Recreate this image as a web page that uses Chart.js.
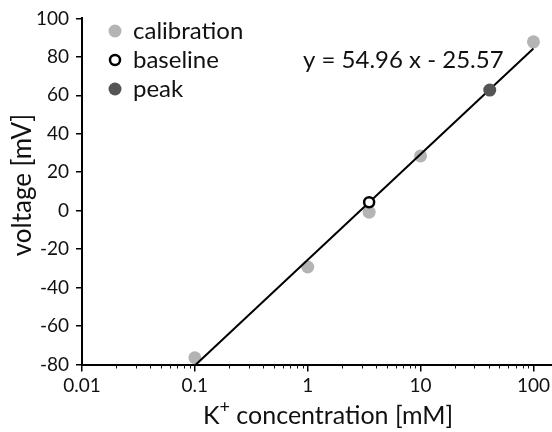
<!DOCTYPE html>
<html>
<head>
<meta charset="utf-8">
<script src="https://cdn.jsdelivr.net/npm/chart.js@4.4.1/dist/chart.umd.min.js"></script>
<style>
  html, body { margin: 0; padding: 0; background: #fff; }
  #wrap { width: 552px; height: 432px; }
</style>
</head>
<body>
<div id="wrap"><canvas id="chart" width="552" height="432"></canvas></div>
<script>
const FONT = "Lato, 'Open Sans', sans-serif";
const INK = "#111";

// calibration standards (K+ mM -> mV)
const calX = [0.1, 1, 3.5, 10, 100];
const calY = [-76.5, -29.3, -0.8, 28.5, 87.8];

const baseX = [3.5];
const baseY = [4.4];

const peakX = [41];
const peakY = [62.7];

// fitted line, drawn between its two ends
const fitSlope = 54.96;
const fitIntercept = -25.57;
const fitX = [0.1, 100];
const fitY = [-80.53, 84.35];

const xTicks = [0.01, 0.1, 1, 10, 100];
const yTicks = [-80, -60, -40, -20, 0, 20, 40, 60, 80, 100];

const pts = (xs, ys) => xs.map((x, i) => ({ x: x, y: ys[i] }));

const extras = {
  id: "extras",
  afterDraw(chart) {
    const ctx = chart.ctx;
    const xs = chart.scales.x;
    const area = chart.chartArea;
    ctx.save();

    // minor log ticks
    ctx.strokeStyle = INK;
    ctx.lineWidth = 1;
    xTicks.forEach((d) => {
      for (let m = 2; m <= 9; m++) {
        const v = m * d;
        if (v > xs.max) continue;
        const px = Math.round(xs.getPixelForValue(v)) + 0.5;
        ctx.beginPath();
        ctx.moveTo(px, area.bottom);
        ctx.lineTo(px, area.bottom + 4);
        ctx.stroke();
      }
    });

    // legend
    const items = [
      { label: "calibration", ds: chart.data.datasets[0] },
      { label: "baseline", ds: chart.data.datasets[2] },
      { label: "peak", ds: chart.data.datasets[3] },
    ];
    ctx.font = "24px " + FONT;
    ctx.textBaseline = "middle";
    ctx.textAlign = "left";
    items.forEach((it, i) => {
      const cy = 31 + i * 29;
      ctx.beginPath();
      ctx.arc(115, cy, it.ds.pointRadius, 0, Math.PI * 2);
      ctx.fillStyle = it.ds.backgroundColor;
      ctx.fill();
      if (it.ds.borderWidth) {
        ctx.lineWidth = it.ds.borderWidth;
        ctx.strokeStyle = it.ds.borderColor;
        ctx.stroke();
      }
      ctx.fillStyle = INK;
      ctx.fillText(it.label, 133, cy);
    });

    // equation
    const eq = "y = " + fitSlope.toFixed(2) + " x - " + Math.abs(fitIntercept).toFixed(2);
    ctx.fillText(eq, 303, 60);

    // y title
    ctx.save();
    ctx.translate(23, 185);
    ctx.rotate(-Math.PI / 2);
    ctx.textAlign = "center";
    ctx.font = "26px " + FONT;
    ctx.fillText("voltage [mV]", 0, 0);
    ctx.restore();

    // x title with superscript
    const main = " concentration [mM]";
    ctx.font = "25px " + FONT;
    const wK = ctx.measureText("K").width;
    const wM = ctx.measureText(main).width;
    ctx.font = "18px " + FONT;
    const wS = ctx.measureText("+").width;
    const total = wK + wS + wM;
    const x0 = 328 - total / 2;
    const by = 416;
    ctx.font = "25px " + FONT;
    ctx.fillText("K", x0, by);
    ctx.font = "18px " + FONT;
    ctx.fillText("+", x0 + wK, by - 9);
    ctx.font = "25px " + FONT;
    ctx.fillText(main, x0 + wK + wS, by);

    ctx.restore();
  },
};

const ctx = document.getElementById("chart").getContext("2d");

new Chart(ctx, {
  type: "scatter",
  data: {
    datasets: [
      {
        label: "calibration",
        data: pts(calX, calY),
        pointRadius: 6.5,
        pointHoverRadius: 6.5,
        backgroundColor: "#b4b4b4",
        borderWidth: 0,
        order: 3,
      },
      {
        label: "fit",
        data: pts(fitX, fitY),
        showLine: true,
        pointRadius: 0,
        borderColor: "#000",
        borderWidth: 2,
        order: 2,
      },
      {
        label: "baseline",
        data: pts(baseX, baseY),
        pointRadius: 5,
        pointHoverRadius: 5,
        backgroundColor: "#fff",
        borderColor: "#000",
        borderWidth: 2.5,
        order: 1,
      },
      {
        label: "peak",
        data: pts(peakX, peakY),
        pointRadius: 6.5,
        pointHoverRadius: 6.5,
        backgroundColor: "#555555",
        borderWidth: 0,
        order: 0,
      },
    ],
  },
  options: {
    responsive: false,
    animation: false,
    events: [],
    layout: { autoPadding: false, padding: { top: 17, right: 0, bottom: 0, left: 0 } },
    plugins: { legend: { display: false }, tooltip: { enabled: false } },
    scales: {
      x: {
        type: "logarithmic",
        min: 0.01,
        max: 146,
        afterFit(s) {
          s.height = 67.5;
          s.paddingLeft = 0;
          s.paddingRight = 0;
        },
        afterBuildTicks(s) { s.ticks = xTicks.map((v) => ({ value: v, major: true })); },
        border: { display: true, color: "#000", width: 2 },
        grid: { drawOnChartArea: false, drawTicks: true, tickLength: 7, color: "#000", lineWidth: 1.5 },
        ticks: {
          autoSkip: false,
          maxRotation: 0,
          padding: 3,
          color: INK,
          font: { family: FONT, size: 19 },
          callback: (v) => String(v),
        },
      },
      y: {
        min: -80,
        max: 100,
        afterFit(s) { s.width = 82; },
        afterBuildTicks(s) { s.ticks = yTicks.map((v) => ({ value: v })); },
        border: { display: true, color: "#000", width: 2 },
        grid: { drawOnChartArea: false, drawTicks: true, tickLength: 6, color: "#000", lineWidth: 1.5 },
        ticks: {
          padding: 7,
          color: INK,
          font: { family: FONT, size: 19 },
        },
      },
    },
  },
  plugins: [extras],
});
</script>
</body>
</html>
